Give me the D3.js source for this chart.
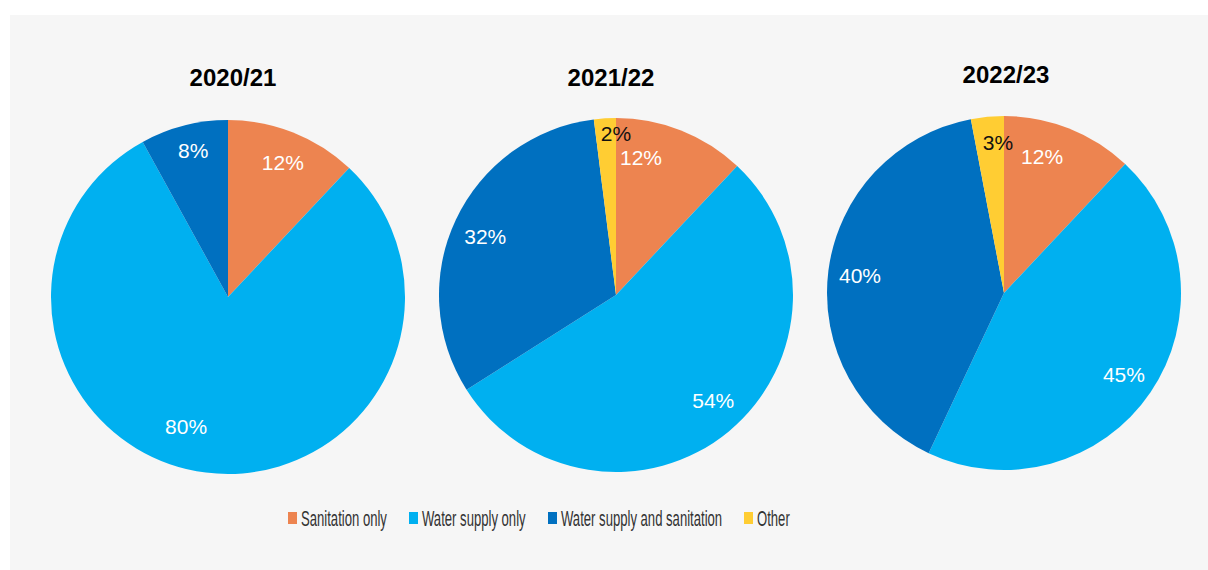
<!DOCTYPE html>
<html>
<head>
<meta charset="utf-8">
<script src="https://cdn.jsdelivr.net/npm/d3@7"></script>
<style>
  html, body { margin: 0; padding: 0; background: #ffffff; }
  svg { display: block; }
</style>
</head>
<body>
<svg id="chart" width="1208" height="570"></svg>
<script>
// Share of projects by type, per financial year (percent)
const categories = ["Sanitation only", "Water supply only", "Water supply and sanitation", "Other"];
const years = ["2020/21", "2021/22", "2022/23"];
const values2020 = [12, 80, 8, 0];
const values2021 = [12, 54, 32, 2];
const values2022 = [12, 45, 40, 3];
const seriesByYear = [values2020, values2021, values2022];

const colors = ["#ED8450", "#00B0F0", "#0070C0", "#FFCD33"];
const labelColors = ["#ffffff", "#ffffff", "#ffffff", "#111111"];

// Label placement tweaks: [angle shift in degrees, radius factor] per slice
const labelAdjust = [
  [[0.6, 0.82], [10.7, 0.77], [1.0, 0.85], [0, 0.8]],
  [[-11.3, 0.79], [-3.1, 0.81], [-1.0, 0.81], [3.6, 0.91]],
  [[-6.0, 0.80], [0.1, 0.82], [-0.1, 0.82], [3.1, 0.85]]
];

const svg = d3.select("#chart");
const W = 1208, H = 570;

// panel background
svg.append("rect")
  .attr("x", 10).attr("y", 15)
  .attr("width", W - 10).attr("height", H - 15)
  .attr("fill", "#F6F6F6");

const radius = 177;
const cx = d3.scalePoint().domain(years).range([228, 1004]);
const cyOffsets = [297, 295, 293];
const titleY = [86, 86, 83];

const pie = d3.pie().sort(null).value(d => d);
const arc = d3.arc().innerRadius(0).outerRadius(radius);

years.forEach((yr, i) => {
  const g = svg.append("g")
    .attr("transform", `translate(${cx(yr)},${cyOffsets[i]})`);

  const arcs = pie(seriesByYear[i]);

  g.selectAll("path.slice")
    .data(arcs.filter(a => a.value > 0))
    .join("path")
    .attr("class", "slice")
    .attr("d", arc)
    .attr("fill", d => colors[d.index]);

  g.selectAll("text.val")
    .data(arcs.filter(a => a.value > 0))
    .join("text")
    .attr("class", "val")
    .attr("transform", d => {
      const adj = labelAdjust[i][d.index];
      const a = (d.startAngle + d.endAngle) / 2 + adj[0] * Math.PI / 180;
      const r = radius * adj[1];
      return `translate(${r * Math.sin(a)},${-r * Math.cos(a)})`;
    })
    .attr("text-anchor", "middle")
    .attr("dy", "0.36em")
    .attr("font-family", "'Liberation Sans', Arial, sans-serif")
    .attr("font-size", 21)
    .attr("fill", d => labelColors[d.index])
    .text(d => d.value + "%");

  svg.append("text")
    .attr("x", cx(yr) + (i === 0 ? 5 : i === 1 ? -5 : 2))
    .attr("y", titleY[i])
    .attr("text-anchor", "middle")
    .attr("font-family", "'Liberation Sans', Arial, sans-serif")
    .attr("font-weight", "bold")
    .attr("font-size", 24)
    .attr("fill", "#000")
    .text(yr);
});

// legend
const legendX = [288, 409, 548, 744];
const legend = svg.append("g").attr("class", "legend");
categories.forEach((c, k) => {
  const lg = legend.append("g").attr("transform", `translate(${legendX[k]},512)`);
  lg.append("rect").attr("x", 0).attr("y", 0).attr("width", 9).attr("height", 12)
    .attr("fill", colors[k]);
  lg.append("text")
    .attr("transform", "translate(13,13.5) scale(0.575,1)")
    .attr("font-family", "'Liberation Sans', Arial, sans-serif")
    .attr("font-size", 22.8)
    .attr("fill", "#333")
    .text(c);
});
</script>
</body>
</html>
